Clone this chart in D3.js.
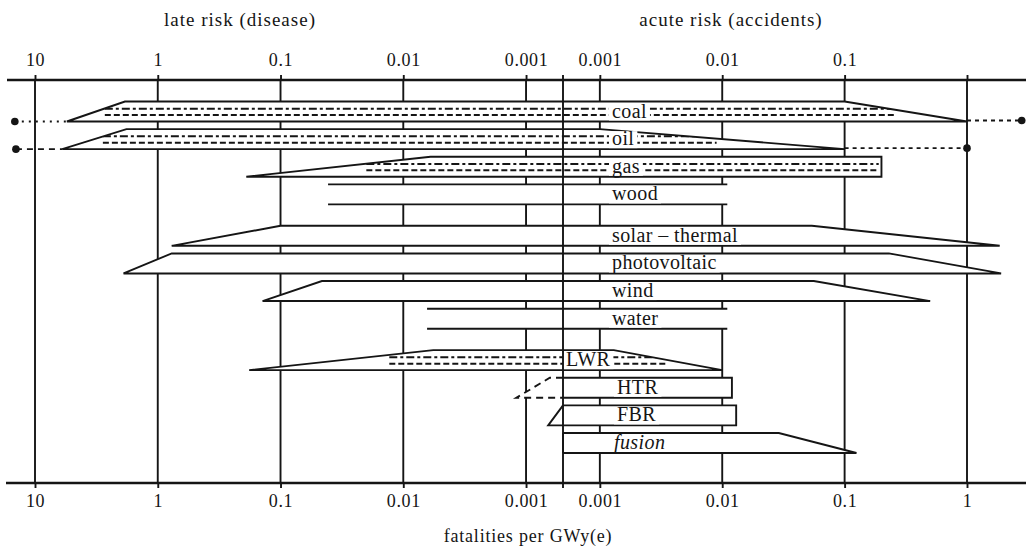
<!DOCTYPE html>
<html>
<head>
<meta charset="utf-8">
<script src="https://cdn.jsdelivr.net/npm/d3@7"></script>
<style>
  body { margin: 0; background: #fff; }
  svg { display: block; font-family: "Liberation Serif", "DejaVu Serif", serif; }
</style>
</head>
<body>
<div id="chart"></div>
<script>
// energy sources, top to bottom
const sources = ["coal", "oil", "gas", "wood", "solar – thermal", "photovoltaic", "wind", "water", "LWR", "HTR", "FBR", "fusion"]
const sourceGroup = [0, 0, 0, 0, 1, 1, 1, 1, 2, 2, 2, 2]

// late risk (disease) end of each band: pointed tip and where the top edge starts
const lateTip = [5.5, 6.0, 0.19, 0.041, 0.77, 1.9, 0.14, 0.0064, 0.18, 0.0012, 0.00066, 0.0005]
const lateTop = [1.85, 1.8, 0.006, 0.041, 0.1, 0.77, 0.046, 0.0064, 0.0057, 0.00064, 0.0005, 0.0005]

// acute risk (accidents) end of each band
const acuteTop = [0.1, 0.001, 0.2, 0.011, 0.054, 0.23, 0.056, 0.011, 0.0013, 0.012, 0.013, 0.029]
const acuteTip = [1.0, 0.1, 0.2, 0.011, 1.85, 1.9, 0.5, 0.011, 0.01, 0.012, 0.013, 0.125]

// dashed hatching inside some bands (late start, acute end)
const innerLate = [2.7, 2.8, 0.02, null, null, null, null, null, 0.013, null, null, null]
const innerAcute = [0.26, 0.009, 0.19, null, null, null, null, null, 0.0035, null, null, null]

const openBands = ["wood", "water"]   // only two lines, no ends
const dashedLate = ["HTR"]            // late part drawn dashed

// extensions with end dots
const extSources = ["coal", "oil"]
const extLate = [14.6, 14.3]
const extAcute = [2.8, 1.0]

const lateTicks = [10, 1, 0.1, 0.01, 0.001]
const lateTickLabels = ["10", "1", "0.1", "0.01", "0.001"]
const acuteTicks = [0.001, 0.01, 0.1, 1]
const acuteTickLabels = ["0.001", "0.01", "0.1", "1"]

const SPLIT = 0.0005 // both scales meet here

const WIDTH = 1026
const HEIGHT = 551
const TOP_AXIS = 80
const BOTTOM_AXIS = 483
const BAND_H = 20
const INK = "#151515"

const labelX = { LWR: 566, HTR: 617, FBR: 617, fusion: 614 }

const svg = d3.select("#chart")
    .append("svg")
    .attr("width", WIDTH)
    .attr("height", HEIGHT)

svg.append("rect").attr("width", WIDTH).attr("height", HEIGHT).attr("fill", "#fff")

// two log scales glued together at the split
const xLate = d3.scaleLog().domain([10, SPLIT]).range([35, 563])
const xAcute = d3.scaleLog().domain([SPLIT, 1]).range([563, 967])
const xSplit = xLate(SPLIT)

// rows, with a little extra room between the groups
const rowPos = sources.map((s, i) => i + sourceGroup[i] * 0.5)
const y = d3.scaleLinear().domain([0, d3.max(rowPos)]).range([111.5, 443])

//grid lines
const gridXs = lateTicks.map(d => xLate(d)).concat(acuteTicks.map(d => xAcute(d)))
svg.append("g")
    .selectAll("line")
    .data(gridXs)
    .enter()
    .append("line")
    .attr("x1", d => d).attr("x2", d => d)
    .attr("y1", TOP_AXIS).attr("y2", BOTTOM_AXIS)
    .attr("stroke", INK)
    .attr("stroke-width", 1.9)

// axes
function styleAxis(g) {
    g.select(".domain").remove()
    g.selectAll(".tick line").attr("stroke", INK).attr("stroke-width", 1.9)
    g.selectAll(".tick text")
        .attr("fill", INK)
        .style("font-family", "'Liberation Serif', serif")
        .style("font-size", "18px")
        .style("letter-spacing", "0.6px")
}

svg.append("g")
    .attr("transform", "translate(0," + TOP_AXIS + ")")
    .call(d3.axisTop(xLate).tickValues(lateTicks).tickSize(5).tickPadding(9)
        .tickFormat((d, i) => lateTickLabels[i]))
    .call(styleAxis)

svg.append("g")
    .attr("transform", "translate(0," + TOP_AXIS + ")")
    .call(d3.axisTop(xAcute).tickValues(acuteTicks).tickSize(5).tickPadding(9)
        .tickFormat((d, i) => d === 1 ? "" : acuteTickLabels[i]))
    .call(styleAxis)

svg.append("g")
    .attr("transform", "translate(0," + BOTTOM_AXIS + ")")
    .call(d3.axisBottom(xLate).tickValues(lateTicks).tickSize(5).tickPadding(6)
        .tickFormat((d, i) => lateTickLabels[i]))
    .call(styleAxis)

svg.append("g")
    .attr("transform", "translate(0," + BOTTOM_AXIS + ")")
    .call(d3.axisBottom(xAcute).tickValues(acuteTicks).tickSize(5).tickPadding(6)
        .tickFormat((d, i) => acuteTickLabels[i]))
    .call(styleAxis)

// axis baselines
svg.append("line").attr("x1", 7).attr("x2", WIDTH).attr("y1", TOP_AXIS).attr("y2", TOP_AXIS)
    .attr("stroke", INK).attr("stroke-width", 2.4)
svg.append("line").attr("x1", 6).attr("x2", WIDTH).attr("y1", BOTTOM_AXIS).attr("y2", BOTTOM_AXIS)
    .attr("stroke", INK).attr("stroke-width", 2.4)

// titles
svg.append("text").attr("x", 240).attr("y", 26).attr("text-anchor", "middle")
    .style("font-size", "19px").style("letter-spacing", "1px").attr("fill", INK)
    .text("late risk (disease)")
svg.append("text").attr("x", 731).attr("y", 26).attr("text-anchor", "middle")
    .style("font-size", "19px").style("letter-spacing", "1px").attr("fill", INK)
    .text("acute risk (accidents)")
svg.append("text").attr("x", 528).attr("y", 542).attr("text-anchor", "middle")
    .style("font-size", "18px").style("letter-spacing", "0.8px").attr("fill", INK)
    .text("fatalities per GWy(e)")

// bands
const bands = sources.map((s, i) => ({
    name: s,
    top: y(rowPos[i]) - BAND_H / 2,
    bottom: y(rowPos[i]) + BAND_H / 2,
    xLateTip: xLate(lateTip[i]),
    xLateTop: xLate(lateTop[i]),
    xAcuteTop: xAcute(acuteTop[i]),
    xAcuteTip: xAcute(acuteTip[i]),
    inner: innerLate[i] === null ? null : [xLate(innerLate[i]), xAcute(innerAcute[i])]
}))

const line = d3.line()
const defs = svg.append("defs")
const bandG = svg.append("g")

bands.forEach((b, i) => {
    const poly = [[b.xLateTip, b.bottom], [b.xLateTop, b.top], [b.xAcuteTop, b.top], [b.xAcuteTip, b.bottom]]

    defs.append("clipPath").attr("id", "clip" + i)
        .append("path").attr("d", line(poly) + "Z")

    // white fill hides the grid
    bandG.append("path")
        .attr("d", line(poly) + "Z")
        .attr("fill", "#fff")

    if (b.inner) {
        const h = b.bottom - b.top
        bandG.append("g").attr("clip-path", "url(#clip" + i + ")")
            .selectAll("line")
            .data([[0.36, "8,3,3,3"], [0.68, "6,3"]])
            .enter()
            .append("line")
            .attr("x1", b.inner[0]).attr("x2", b.inner[1])
            .attr("y1", d => b.top + h * d[0]).attr("y2", d => b.top + h * d[0])
            .attr("stroke", INK).attr("stroke-width", 2)
            .attr("stroke-dasharray", d => d[1])
    }

    if (openBands.includes(b.name)) {
        bandG.append("path").attr("d", line([[b.xLateTop, b.top], [b.xAcuteTop, b.top]]))
            .attr("stroke", INK).attr("stroke-width", 1.9).attr("fill", "none")
        bandG.append("path").attr("d", line([[b.xLateTip, b.bottom], [b.xAcuteTip, b.bottom]]))
            .attr("stroke", INK).attr("stroke-width", 1.9).attr("fill", "none")
        return
    }

    // late half and acute half of the outline
    bandG.append("path")
        .attr("d", line([[xSplit, b.top], [b.xLateTop, b.top], [b.xLateTip, b.bottom], [xSplit, b.bottom]]))
        .attr("fill", "none").attr("stroke", INK).attr("stroke-width", 1.9)
        .attr("stroke-linejoin", "miter")
        .attr("stroke-dasharray", dashedLate.includes(b.name) ? "7,5" : null)
    bandG.append("path")
        .attr("d", line([[xSplit, b.top], [b.xAcuteTop, b.top], [b.xAcuteTip, b.bottom], [xSplit, b.bottom]]))
        .attr("fill", "none").attr("stroke", INK).attr("stroke-width", 1.9)
        .attr("stroke-linejoin", "miter")
})

// extensions for coal and oil
extSources.forEach((s, k) => {
    const b = bands[sources.indexOf(s)]
    const g = svg.append("g")
    g.append("line")
        .attr("x1", xLate(extLate[k])).attr("x2", b.xLateTip)
        .attr("y1", b.bottom).attr("y2", b.bottom)
        .attr("stroke", INK).attr("stroke-width", 1.9)
        .attr("stroke-dasharray", k === 0 ? "2,5" : "6,5")
    g.append("line")
        .attr("x1", b.xAcuteTip).attr("x2", xAcute(extAcute[k]))
        .attr("y1", b.bottom - 1).attr("y2", b.bottom - 1)
        .attr("stroke", INK).attr("stroke-width", 1.9)
        .attr("stroke-dasharray", "4,4")
    g.selectAll("circle")
        .data([[xLate(extLate[k]), b.bottom], [xAcute(extAcute[k]), b.bottom - 1]])
        .enter()
        .append("circle")
        .attr("cx", d => d[0]).attr("cy", d => d[1])
        .attr("r", 3.8)
        .attr("fill", INK)
})

// labels with a white patch so hatching breaks around them
const labelG = svg.append("g")
bands.forEach(b => {
    const cy = (b.top + b.bottom) / 2
    const t = labelG.append("text")
        .attr("x", labelX[b.name] || 612)
        .attr("y", cy + 6)
        .style("font-size", "20px")
        .style("letter-spacing", "0.4px")
        .style("font-style", b.name === "fusion" ? "italic" : "normal")
        .attr("fill", INK)
        .text(b.name)
    const bb = t.node().getBBox()
    labelG.insert("rect", "text")
        .attr("x", bb.x - 3).attr("width", bb.width + 6)
        .attr("y", cy - 8).attr("height", 17)
        .attr("fill", "#fff")
})

// divider between late and acute halves
svg.append("line")
    .attr("x1", xSplit).attr("x2", xSplit)
    .attr("y1", TOP_AXIS - 5).attr("y2", BOTTOM_AXIS + 5)
    .attr("stroke", INK).attr("stroke-width", 1.9)
</script>
</body>
</html>
